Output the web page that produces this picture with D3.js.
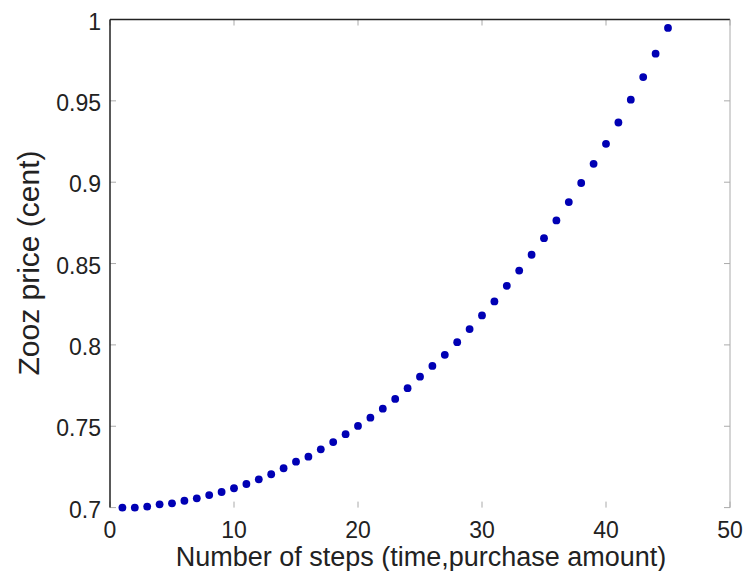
<!DOCTYPE html>
<html>
<head>
<meta charset="utf-8">
<script src="https://cdn.jsdelivr.net/npm/d3@7"></script>
<style>
  body { margin: 0; background: #fff; }
  text { font-family: "Liberation Sans", Arial, sans-serif; fill: #222; }
</style>
</head>
<body>
<svg id="chart" width="745" height="571"></svg>
<script>
// Data
let steps = [1, 2, 3, 4, 5, 6, 7, 8, 9, 10, 11, 12, 13, 14, 15, 16, 17, 18, 19, 20, 21, 22, 23,
  24, 25, 26, 27, 28, 29, 30, 31, 32, 33, 34, 35, 36, 37, 38, 39, 40, 41, 42, 43, 44, 45];
let price = [0.700, 0.700, 0.7006, 0.702, 0.7026, 0.7042, 0.7057, 0.7077, 0.7096, 0.7119,
  0.7145, 0.7174, 0.7205, 0.7242, 0.7282, 0.7313, 0.7358, 0.7403, 0.7451, 0.7502,
  0.7553, 0.7608, 0.7668, 0.7734, 0.7805, 0.7871, 0.7939, 0.8017, 0.8097, 0.8181,
  0.8267, 0.8363, 0.8457, 0.8554, 0.8656, 0.8765, 0.8878, 0.8995, 0.9113, 0.9236,
  0.9367, 0.9507, 0.9646, 0.9790, 0.9948];
let xTicks = [0, 10, 20, 30, 40, 50];
let yTicks = [0.7, 0.75, 0.8, 0.85, 0.9, 0.95, 1];

let svg = d3.select("#chart");
let pLeft = 110, pRight = 730, pTop = 19.5, pBottom = 507.6;

let x = d3.scaleLinear().domain([0, 50]).range([pLeft, pRight]);
let y = d3.scaleLinear().domain([0.7, 1]).range([pBottom, pTop]);

// Ticks (inward, on all four sides)
let tk = 6;
let g = svg.append("g");
xTicks.forEach(function(t) {
  g.append("line").attr("x1", x(t)).attr("x2", x(t)).attr("y1", pBottom).attr("y2", pBottom - tk)
    .attr("stroke", "#aaa");
  g.append("line").attr("x1", x(t)).attr("x2", x(t)).attr("y1", pTop).attr("y2", pTop + tk)
    .attr("stroke", "#aaa");
  g.append("text").attr("x", x(t)).attr("y", 538).attr("text-anchor", "middle")
    .attr("font-size", 23).text(t);
});
yTicks.forEach(function(t) {
  g.append("line").attr("x1", pLeft).attr("x2", pLeft + tk).attr("y1", y(t)).attr("y2", y(t))
    .attr("stroke", "#aaa");
  g.append("line").attr("x1", pRight).attr("x2", pRight - tk).attr("y1", y(t)).attr("y2", y(t))
    .attr("stroke", "#aaa");
  g.append("text").attr("x", 101).attr("y", y(t) + 10).attr("text-anchor", "end")
    .attr("font-size", 23).text(t);
});

// Box: dark left and top, light right
svg.append("line").attr("x1", pLeft).attr("x2", pLeft).attr("y1", pTop).attr("y2", pBottom)
  .attr("stroke", "#222").attr("stroke-width", 1.5);
svg.append("line").attr("x1", pLeft).attr("x2", pRight).attr("y1", pTop).attr("y2", pTop)
  .attr("stroke", "#222").attr("stroke-width", 1.5);
svg.append("line").attr("x1", pRight).attr("x2", pRight).attr("y1", pTop).attr("y2", pBottom)
  .attr("stroke", "#aaa").attr("stroke-width", 1);

// Points
svg.append("g").selectAll("circle")
  .data(steps)
  .enter()
  .append("circle")
  .attr("cx", (d) => x(d))
  .attr("cy", (d, i) => y(price[i]))
  .attr("r", 3.9)
  .attr("fill", "#0000b4");

// Axis labels
svg.append("text").attr("x", 421).attr("y", 566).attr("text-anchor", "middle")
  .attr("font-size", 27)
  .text("Number of steps (time,purchase amount)");
svg.append("text").attr("transform", "translate(39,263) rotate(-90)").attr("text-anchor", "middle")
  .attr("font-size", 30)
  .text("Zooz price (cent)");
</script>
</body>
</html>
